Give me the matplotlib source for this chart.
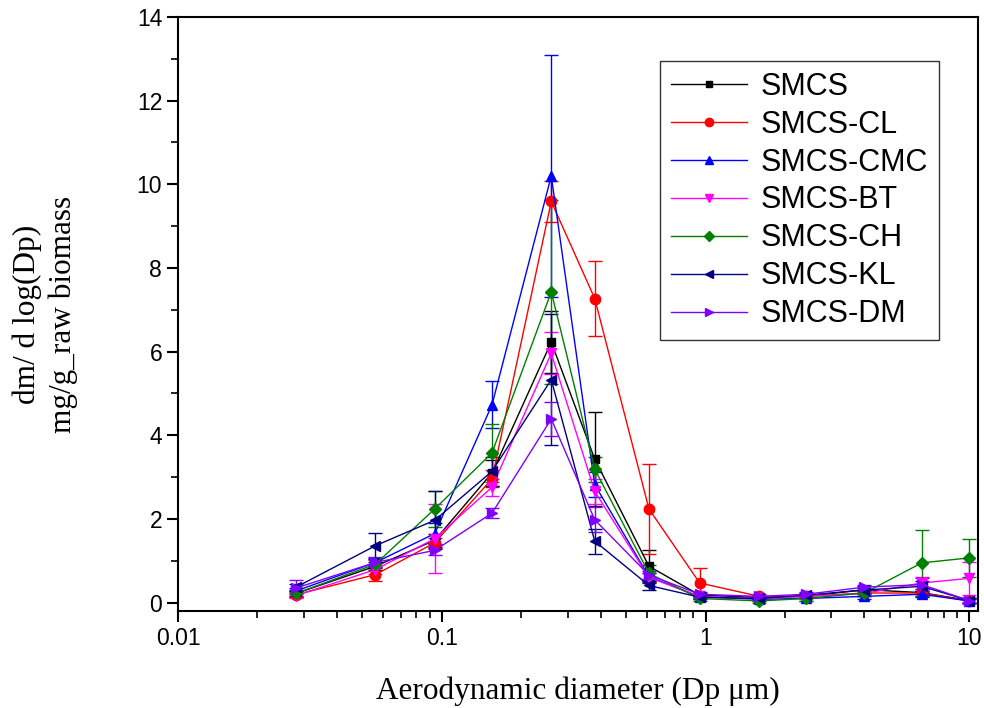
import matplotlib.pyplot as plt
from matplotlib.ticker import MultipleLocator, LogLocator, FixedLocator
import numpy as np

# ELPI stage diameters (um)
dp = [0.028, 0.056, 0.094, 0.155, 0.26, 0.38, 0.61, 0.95, 1.6, 2.4, 4.0, 6.6, 10.0]

labels = ["SMCS", "SMCS-CL", "SMCS-CMC", "SMCS-BT", "SMCS-CH", "SMCS-KL", "SMCS-DM"]

smcs     = [0.22, 0.87, 1.49, 3.10, 6.23, 3.43, 0.87, 0.18, 0.12, 0.15, 0.31, 0.24, 0.05]
smcs_cl  = [0.19, 0.67, 1.43, 2.96, 9.59, 7.27, 2.24, 0.47, 0.15, 0.15, 0.23, 0.23, 0.04]
smcs_cmc = [0.28, 0.96, 1.65, 4.73, 10.2, 2.82, 0.62, 0.14, 0.08, 0.10, 0.15, 0.20, 0.04]
smcs_bt  = [0.17, 0.79, 1.53, 2.76, 5.96, 2.66, 0.60, 0.15, 0.10, 0.15, 0.22, 0.47, 0.58]
smcs_ch  = [0.22, 0.92, 2.24, 3.58, 7.43, 3.19, 0.70, 0.10, 0.04, 0.10, 0.23, 0.95, 1.07]
smcs_kl  = [0.37, 1.36, 1.97, 3.14, 5.33, 1.47, 0.41, 0.13, 0.10, 0.18, 0.30, 0.39, 0.05]
smcs_dm  = [0.35, 0.96, 1.25, 2.14, 4.39, 1.98, 0.66, 0.20, 0.15, 0.20, 0.37, 0.43, 0.05]

err_smcs     = [0.08, 0.10, 0.15, 0.30, 0.75, 1.12, 0.40, 0.05, 0.05, 0.05, 0.08, 0.08, 0.05]
err_smcs_cl  = [0.06, 0.15, 0.12, 0.20, 0.50, 0.90, 1.08, 0.36, 0.05, 0.05, 0.06, 0.06, 0.04]
err_smcs_cmc = [0.08, 0.10, 0.25, 0.56, 2.90, 0.30, 0.10, 0.05, 0.04, 0.05, 0.06, 0.06, 0.04]
err_smcs_bt  = [0.06, 0.10, 0.83, 0.20, 0.50, 0.30, 0.10, 0.05, 0.04, 0.05, 0.06, 0.15, 0.40]
err_smcs_ch  = [0.06, 0.10, 0.42, 0.70, 2.20, 0.30, 0.20, 0.05, 0.04, 0.05, 0.06, 0.78, 0.45]
err_smcs_kl  = [0.08, 0.31, 0.69, 0.35, 1.57, 0.30, 0.10, 0.05, 0.04, 0.05, 0.06, 0.12, 0.05]
err_smcs_dm  = [0.20, 0.12, 0.12, 0.12, 0.40, 0.30, 0.10, 0.05, 0.04, 0.05, 0.06, 0.15, 0.05]

series = [smcs, smcs_cl, smcs_cmc, smcs_bt, smcs_ch, smcs_kl, smcs_dm]
errors = [err_smcs, err_smcs_cl, err_smcs_cmc, err_smcs_bt, err_smcs_ch, err_smcs_kl, err_smcs_dm]
colors = ["#000000", "#FF0000", "#0000FF", "#FF00FF", "#008000", "#000080", "#8000FF"]
markers = ["s", "o", "^", "v", "D", "<", ">"]
msizes = [6, 7.5, 7.5, 7.5, 6.5, 7.5, 7.5]

fig = plt.figure(figsize=(9.84, 7.08), dpi=100)
ax = fig.add_axes([0.181, 0.137, 0.813, 0.839])

handles = []
for y, e, c, m, ms, lab in zip(series, errors, colors, markers, msizes, labels):
    ax.errorbar(dp, y, yerr=e, color=c, marker=m, markersize=ms, linewidth=1.0,
                elinewidth=1.0, capsize=5, capthick=1.0)
    h, = ax.plot([], [], color=c, marker=m, markersize=ms * 0.8, linewidth=1.0,
                 label=lab)
    handles.append(h)

ax.set_xscale("log")
ax.set_xlim(0.01, 10.8)
ax.set_ylim(-0.2, 14)

ax.xaxis.set_major_locator(FixedLocator([0.01, 0.1, 1, 10]))
ax.xaxis.set_minor_locator(LogLocator(base=10, subs=np.arange(2, 10)))
ax.set_xticklabels(["0.01", "0.1", "1", "10"])
ax.yaxis.set_major_locator(MultipleLocator(2))
ax.yaxis.set_minor_locator(MultipleLocator(1))

ax.tick_params(which="major", direction="out", length=8, width=1.5,
               labelsize=16.5, top=False, right=False)
ax.tick_params(which="minor", direction="out", length=5, width=1.2,
               top=False, right=False)
for lbl in ax.get_xticklabels() + ax.get_yticklabels():
    lbl.set_family("Liberation Sans")
for sp in ax.spines.values():
    sp.set_linewidth(1.5)

ax.set_xlabel("Aerodynamic diameter (Dp \u03bcm)", family="Liberation Serif",
              fontsize=22.5, labelpad=19)
ax.set_ylabel("dm/ d log(Dp)\nmg/g_raw biomass", family="Liberation Serif",
              fontsize=22.5, labelpad=42, linespacing=1.3)

leg = ax.legend(handles=handles, loc="upper right", bbox_to_anchor=(0.951, 0.926),
                prop={"family": "Liberation Sans", "size": 22},
                frameon=True, fancybox=False, edgecolor="black",
                handlelength=2.5, labelspacing=0.26, borderpad=0.35,
                handletextpad=0.45, borderaxespad=0)
leg.get_frame().set_linewidth(1.0)

plt.savefig("out.png", dpi=100)
